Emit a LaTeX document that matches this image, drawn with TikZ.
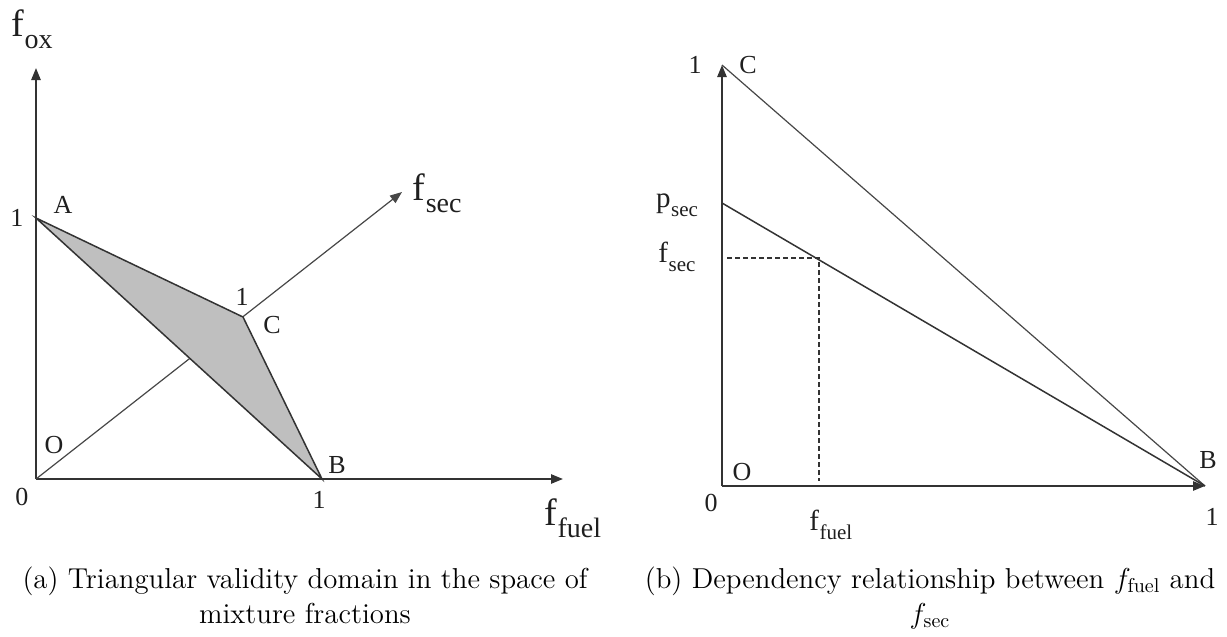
\documentclass[tikz,border=0pt]{standalone}
\usepackage{fontspec}
\newfontfamily\lbl{Liberation Serif}
\usetikzlibrary{arrows.meta}
\newcommand\fsub[3]{#1\kern0.3pt\raisebox{-0.32em}{\fontsize{#3}{#3}\selectfont #2}}
\begin{document}
\begin{tikzpicture}[x=0.5pt,y=-0.5pt,
  tip/.style={-{Triangle[length=6pt,width=4.6pt]}},
  axisline/.style={line width=1pt, draw=black!80},
  thinline/.style={line width=0.6pt, draw=black!72},
  edgeline/.style={line width=0.75pt, draw=black!80},
  dashline/.style={line width=0.6pt, draw=black!80, dash pattern=on 2.4pt off 1.6pt},
  lab/.style={font=\lbl\fontsize{13}{15}\selectfont, inner sep=0pt, text=black!88},
  biglab/.style={font=\lbl\fontsize{19}{21}\selectfont, inner sep=0pt, text=black!88},
  midlab/.style={font=\lbl\fontsize{14.5}{16}\selectfont, inner sep=0pt, text=black!88},
  captext/.style={font=\fontsize{14.4}{17.5}\selectfont, align=center, inner sep=0pt, anchor=north}]
\useasboundingbox (0,0) rectangle (1227,637);
% ---------- left panel ----------
\coordinate (lO) at (36,479);
\coordinate (lA) at (36,218);
\coordinate (lB) at (322,479);
\coordinate (lC) at (243,317);
\coordinate (lFox) at (36,68);
\coordinate (lFfuel) at (563,479);
\coordinate (lFsec) at (402,192);
\draw[axisline,tip] (lO) -- (lFox);
\draw[axisline,tip] (lO) -- (lFfuel);
\draw[thinline,tip] (lO) -- (lFsec);
\filldraw[fill=gray!50, edgeline, line join=miter] (lA) -- (lC) -- (lB) -- cycle;
\node[biglab] (foxl) at (32,29) {\fsub{f}{ox}{14}};
\node[biglab] (fsecl) at (437,193) {\fsub{f}{sec}{14}};
\node[biglab, anchor=base west] (ffuell) at (544,525) {\fsub{f}{fuel}{14}};
\node[lab] (one1) at (17,218) {1};
\node[lab] (Al) at (63,205) {A};
\node[lab] (one2) at (242,297) {1};
\node[lab] (Cl) at (272,325) {C};
\node[lab] (Ol) at (54,445) {O};
\node[lab] (zerol) at (22,497) {0};
\node[lab] (Bl) at (337,465) {B};
\node[lab] (one3) at (319,500) {1};
% ---------- right panel ----------
\coordinate (rO) at (722,486);
\coordinate (rC) at (722,65);
\coordinate (rB) at (1205,486);
\coordinate (rP) at (722,203);
\coordinate (rD) at (819,258);
\coordinate (rDy) at (727,258);
\coordinate (rDx) at (819,481);
\draw[axisline,tip] (rO) -- (rC);
\draw[axisline,tip] (rO) -- (rB);
\draw[thinline] (rC) -- (rB);
\draw[edgeline] (rP) -- (rB);
\draw[dashline] (rDy) -- (rD) -- (rDx);
\node[lab] (one4) at (695,65) {1};
\node[lab] (Cr) at (748,65) {C};
\node[midlab] (psecr) at (677,205) {\fsub{p}{sec}{10.5}};
\node[midlab] (fsecr) at (677,257) {\fsub{f}{sec}{10.5}};
\node[lab] (Or) at (742,472) {O};
\node[lab] (zeror) at (711,503) {0};
\node[lab] (Br) at (1208,460) {B};
\node[lab] (one5) at (1212,517) {1};
\node[midlab, anchor=base west] (ffuelr) at (809,530) {\fsub{f}{fuel}{10.5}};
% ---------- captions ----------
\node[captext] (capa) at (305,566) {(a) Triangular validity domain in the space of\\mixture fractions};
\node[captext] (capb) at (930,566) {(b) Dependency relationship between $f_{\mathrm{fuel}}$ and\\$f_{\mathrm{sec}}$};
\end{tikzpicture}
\end{document}
